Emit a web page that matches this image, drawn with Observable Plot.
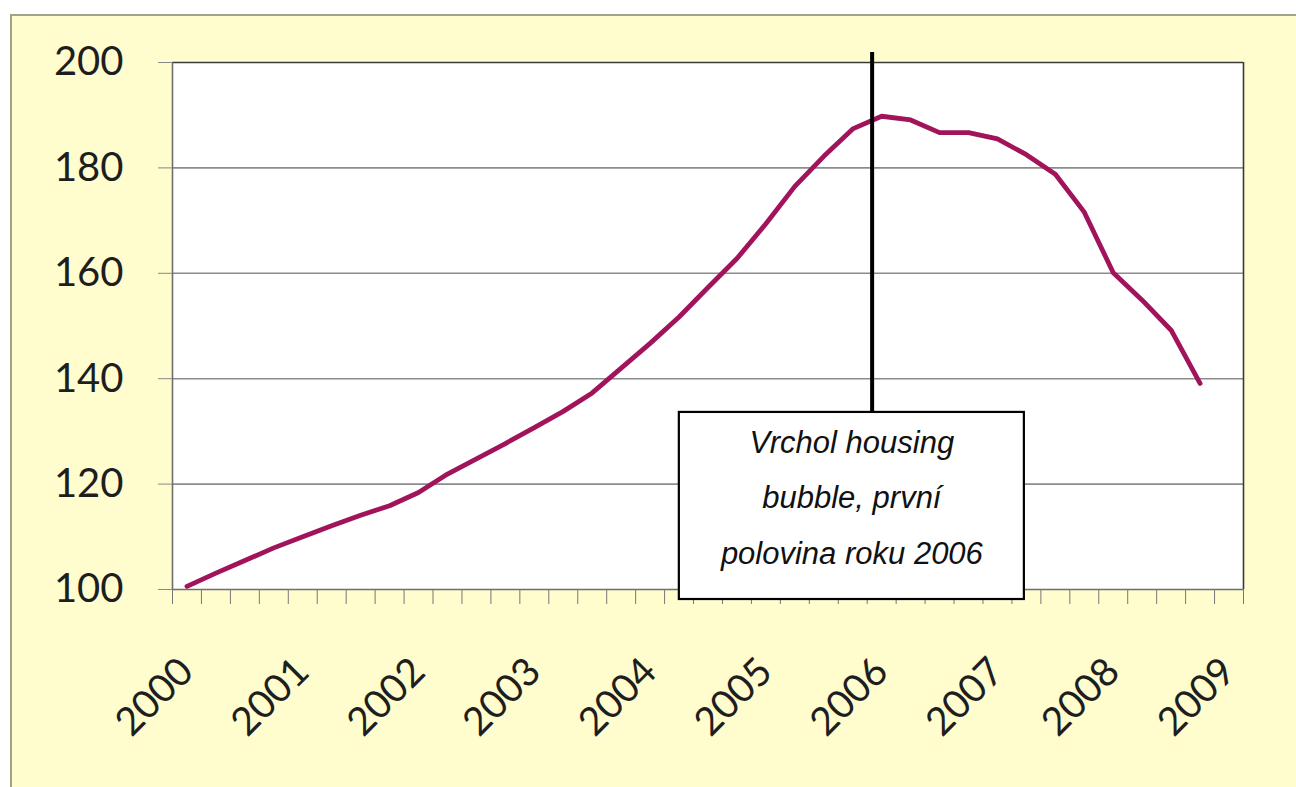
<!DOCTYPE html>
<html>
<head>
<meta charset="utf-8">
<script src="https://cdn.jsdelivr.net/npm/d3@7"></script>
<script src="https://cdn.jsdelivr.net/npm/@observablehq/plot@0.6"></script>
<style>
  html, body { margin: 0; padding: 0; background: #ffffff; width: 1296px; height: 787px; overflow: hidden; }
  #bg { position: absolute; left: 10px; top: 14px; width: 1300px; height: 800px;
        background: #fffcce; border-left: 2px solid #a2a28a; border-top: 2px solid #a2a28a; box-sizing: border-box; }
  #chart { position: absolute; left: 0; top: 0; }
</style>
</head>
<body>
<div id="bg"></div>
<div id="chart"></div>
<script>
// Quarterly index, 2000 Q1 .. 2008 Q4 (one value per quarter)
const quarterValues = [
  100.6, 103.1, 105.5, 107.9, 110.0, 112.1, 114.1, 115.9,
  118.4, 121.9, 124.8, 127.7, 130.7, 133.8, 137.3, 142.0,
  146.7, 151.7, 157.3, 162.8, 169.4, 176.5, 182.2, 187.4,
  189.8, 189.1, 186.7, 186.7, 185.5, 182.5, 178.8, 171.6,
  160.1, 154.9, 149.2, 139.1
];
const categoryCount = 37;               // quarters on the category axis (2000 Q1 .. 2009 Q1)
const yearLabels = ["2000","2001","2002","2003","2004","2005","2006","2007","2008","2009"];
const yTicks = [100, 120, 140, 160, 180, 200];
const gridValues = [120, 140, 160, 180];
const peakPosition = 24.17;            // first half of 2006 on the category axis
const annotationLines = "Vrchol housing\nbubble, první\npolovina roku 2006";

const data = quarterValues.map((v, i) => ({pos: i + 0.5, value: v}));
const yearTicks = yearLabels.map((label, k) => ({pos: k * 4 + 0.5, label}));
const boundaryTicks = d3.range(0, categoryCount + 1);

const chart = Plot.plot({
  width: 1296,
  height: 787,
  marginLeft: 172,
  marginRight: 53,
  marginTop: 62,
  marginBottom: 198,
  style: {background: "transparent", overflow: "visible", fontFamily: "Lato, 'Noto Sans', sans-serif"},
  x: {domain: [0, categoryCount], axis: null},
  y: {domain: [100, 200], axis: null},
  marks: [
    Plot.frame({fill: "white", stroke: null}),
    Plot.ruleY(gridValues, {stroke: "#8c8c8c", strokeWidth: 1.6}),
    Plot.ruleY([200], {stroke: "#3a3a3a", strokeWidth: 1.6}),
    Plot.ruleX([categoryCount], {stroke: "#3a3a3a", strokeWidth: 1.6}),
    Plot.ruleX([0], {stroke: "#6e6e6e", strokeWidth: 1.6}),
    Plot.ruleY([100], {stroke: "#6e6e6e", strokeWidth: 1.6}),
    Plot.axisY({ticks: yTicks, tickSize: 14, tickPadding: 35, fontSize: 40,
      fill: "#1e1e1e", stroke: "#888", tickFormat: d => String(d)}),
    Plot.axisX({ticks: boundaryTicks, tickSize: 15, stroke: "#777", tickFormat: () => ""}),
    Plot.axisX(yearTicks.map(d => d.pos), {tickSize: 0, tickRotate: -45, tickPadding: 65, dx: -11,
      textAnchor: "end", lineAnchor: "top", fontSize: 39, fill: "#1e1e1e",
      tickFormat: p => yearTicks.find(d => d.pos === p).label}),
    Plot.line(data, {x: "pos", y: "value", stroke: "#a1145c", strokeWidth: 4.8, strokeLinejoin: "round", strokeLinecap: "round"}),
    Plot.ruleX([peakPosition], {y1: 133.6, y2: 201.9, stroke: "black", strokeWidth: 4, clip: false}),
    Plot.rect([{x1: 17.51, x2: 29.43, y1: 98.1, y2: 133.6}], {x1: "x1", x2: "x2", y1: "y1", y2: "y2",
      fill: "white", stroke: "black", strokeWidth: 2.2, clip: false}),
    Plot.text([annotationLines], {x: 23.47, y: 133.5, text: d => d, lineAnchor: "top", lineHeight: 1.8,
      fontSize: 31, fontStyle: "italic", fontFamily: "'Liberation Sans', Arial, sans-serif", fill: "#111"})
  ]
});
document.getElementById("chart").appendChild(chart);
</script>
</body>
</html>
